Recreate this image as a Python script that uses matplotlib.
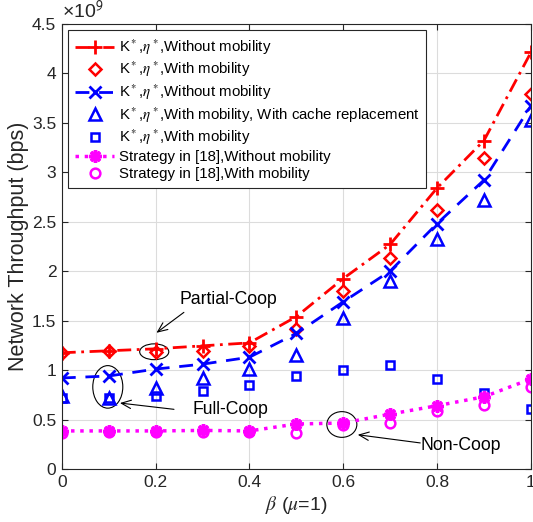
import matplotlib
matplotlib.use("Agg")
import matplotlib.pyplot as plt
from matplotlib.patches import Ellipse

plt.rcParams['font.family'] = ['Liberation Sans', 'DejaVu Sans']
plt.rcParams['mathtext.fontset'] = 'stix'

# beta values
beta = [0, 0.1, 0.2, 0.3, 0.4, 0.5, 0.6, 0.7, 0.8, 0.9, 1.0]

# network throughput, units of 1e9 bps
opt_no_mob = [1.175, 1.195, 1.215, 1.245, 1.275, 1.54, 1.925, 2.27, 2.84, 3.32, 4.21]
opt_mob = [1.17, 1.19, 1.185, 1.19, 1.245, 1.42, 1.80, 2.13, 2.62, 3.14, 3.79]
hyb_no_mob = [0.92, 0.94, 1.01, 1.06, 1.13, 1.37, 1.69, 2.00, 2.48, 2.92, 3.67]
hyb_mob_cache = [0.74, 0.72, 0.82, 0.92, 1.01, 1.155, 1.53, 1.905, 2.32, 2.72, 3.53]
hyb_mob = [0.72, 0.72, 0.74, 0.79, 0.85, 0.94, 1.00, 1.05, 0.91, 0.77, 0.61]
ref_no_mob = [0.385, 0.385, 0.385, 0.39, 0.385, 0.455, 0.465, 0.555, 0.64, 0.73, 0.91]
ref_mob = [0.365, 0.37, 0.37, 0.375, 0.375, 0.365, 0.44, 0.47, 0.585, 0.645, 0.83]

labels = [
    r'K$^*$,$\eta^*$,Without mobility',
    r'K$^*$,$\eta^*$,With mobility',
    r'K$^*$,$\eta^*$,Without mobility',
    r'K$^*$,$\eta^*$,With mobility, With cache replacement',
    r'K$^*$,$\eta^*$,With mobility',
    'Strategy in [18],Without mobility',
    'Strategy in [18],With mobility',
]

fig = plt.figure(figsize=(5.33, 5.22), dpi=100)
ax = fig.add_axes([0.116, 0.1015, 0.88, 0.853])

dark = '#262626'
ax.plot(beta, opt_no_mob, color='red', ls=(0, (5, 2, 1, 2)), lw=2, marker='+', ms=10, mew=2, label=labels[0])
ax.plot(beta, opt_mob, color='red', ls='none', marker='D', ms=6.5, mew=1.8, mfc='none', label=labels[1])
ax.plot(beta, hyb_no_mob, color='blue', ls=(0, (5, 3.5)), lw=2, marker='x', ms=8, mew=2, label=labels[2])
ax.plot(beta, hyb_mob_cache, color='blue', ls='none', marker='^', ms=8, mew=1.8, mfc='none', label=labels[3])
ax.plot(beta, hyb_mob, color='blue', ls='none', marker='s', ms=6, mew=1.8, mfc='none', label=labels[4])
ax.plot(beta, ref_no_mob, color='magenta', ls=':', lw=2.5, marker=(8, 2, 0), ms=9, mew=2.5, label=labels[5])
ax.plot(beta, ref_mob, color='magenta', ls='none', marker='o', ms=7, mew=1.8, mfc='none', label=labels[6])

ax.set_xlim(0, 1)
ax.set_ylim(0, 4.5)
ax.set_xticks([0, 0.2, 0.4, 0.6, 0.8, 1.0])
ax.set_xticklabels(['0', '0.2', '0.4', '0.6', '0.8', '1'])
ax.set_yticks([0, 0.5, 1, 1.5, 2, 2.5, 3, 3.5, 4, 4.5])
ax.set_yticklabels(['0', '0.5', '1', '1.5', '2', '2.5', '3', '3.5', '4', '4.5'])
ax.tick_params(direction='in', top=True, right=True, labelsize=12.5, colors=dark, length=4, pad=4)
ax.grid(True, color='#dcdcdc', lw=0.8)
ax.set_axisbelow(True)
for s in ax.spines.values():
    s.set_color(dark)
    s.set_linewidth(0.8)

ax.set_xlabel(r'$\it{\beta}$ ($\it{\mu}$=1)', fontsize=14, color=dark, labelpad=3)
ax.set_ylabel('Network Throughput (bps)', fontsize=15.5, color=dark, labelpad=2)
ax.text(0.0, 1.003, r'×10$^{\mathsf{9}}$', transform=ax.transAxes, fontsize=14, color=dark,
        ha='left', va='bottom')

leg = ax.legend(loc='upper left', bbox_to_anchor=(0.014, 0.985), fontsize=10.8, handlelength=2.6,
                handletextpad=0.3, borderpad=0.45, labelspacing=0.2, fancybox=False, framealpha=1,
                borderaxespad=0)
leg.get_frame().set_edgecolor(dark)
leg.get_frame().set_linewidth(0.8)

# annotations
ax.add_patch(Ellipse((0.197, 1.185), 0.062, 0.16, fill=False, ec='black', lw=0.8))
ax.add_patch(Ellipse((0.098, 0.83), 0.064, 0.43, fill=False, ec='black', lw=0.8))
ax.add_patch(Ellipse((0.597, 0.45), 0.064, 0.26, fill=False, ec='black', lw=0.8))
arrow = dict(arrowstyle='->,head_length=0.7,head_width=0.3', color='black', lw=0.8)
ax.annotate('', xy=(0.197, 1.36), xytext=(0.265, 1.60), arrowprops=arrow)
ax.text(0.356, 1.71, 'Partial-Coop', fontsize=12.7, ha='center', va='center')
ax.annotate('', xy=(0.118, 0.67), xytext=(0.245, 0.60), arrowprops=arrow)
ax.text(0.36, 0.60, 'Full-Coop', fontsize=12.7, ha='center', va='center')
ax.annotate('', xy=(0.625, 0.35), xytext=(0.77, 0.26), arrowprops=arrow)
ax.text(0.851, 0.233, 'Non-Coop', fontsize=12.7, ha='center', va='center')

fig.savefig('out.png', dpi=100)
